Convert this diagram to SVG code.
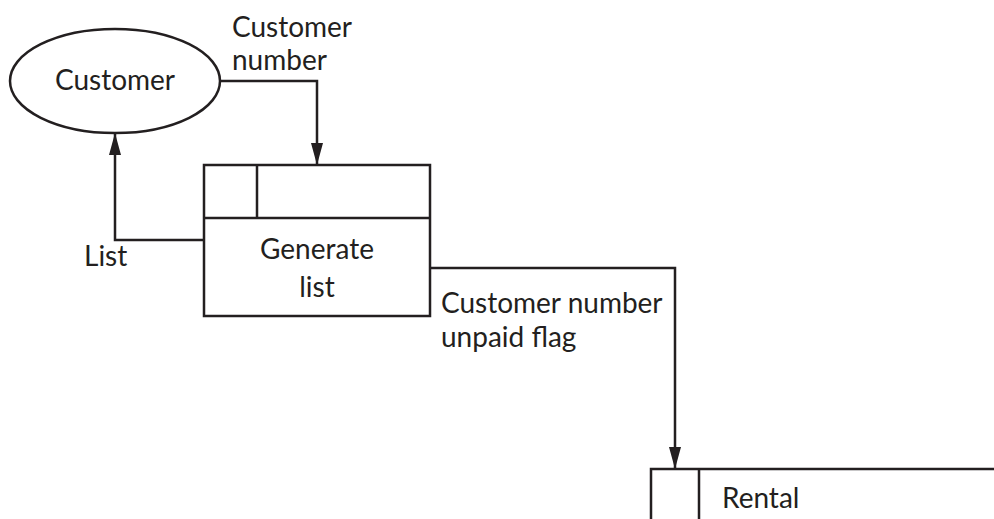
<svg xmlns="http://www.w3.org/2000/svg" width="994" height="519" viewBox="0 0 994 519">
<style>
.s{fill:none;stroke:#231f20;stroke-width:2.5}
.b{fill:#fff;stroke:#231f20;stroke-width:2.5}
text{font-family:Lato,"Open Sans","Noto Sans",sans-serif;font-size:28px;fill:#231f20}
.c{text-anchor:middle}
</style>
<defs>
<marker id="ah" viewBox="0 0 22 12" refX="22" refY="6" markerWidth="22" markerHeight="12" markerUnits="userSpaceOnUse" orient="auto">
<path d="M0,0 L22,6 L0,12 Z" fill="#231f20"/>
</marker>
</defs>
<rect width="994" height="519" fill="#fff"/>
<g id="connectors">
<path class="s" d="M220,81 H317 V165" marker-end="url(#ah)"/>
<path class="s" d="M204,240 H115 V133" marker-end="url(#ah)"/>
<path class="s" d="M430,268 H675 V469" marker-end="url(#ah)"/>
<text x="232" y="37">Customer</text>
<text x="232" y="70">number</text>
<text x="84" y="266">List</text>
<text x="441" y="313">Customer number</text>
<text x="441" y="347">unpaid flag</text>
</g>
<g id="customer">
<ellipse class="b" cx="115" cy="81" rx="105" ry="52"/>
<text class="c" x="115" y="90">Customer</text>
</g>
<g id="generate-list">
<rect class="b" x="204" y="165" width="226" height="151"/>
<path class="s" d="M204,218 H430 M257,165 V218"/>
<text class="c" x="317" y="259">Generate</text>
<text class="c" x="317" y="297">list</text>
</g>
<g id="rental">
<path class="s" d="M651,520 V469 H1000 M699,469 V520"/>
<text x="722" y="508">Rental</text>
</g>
</svg>
